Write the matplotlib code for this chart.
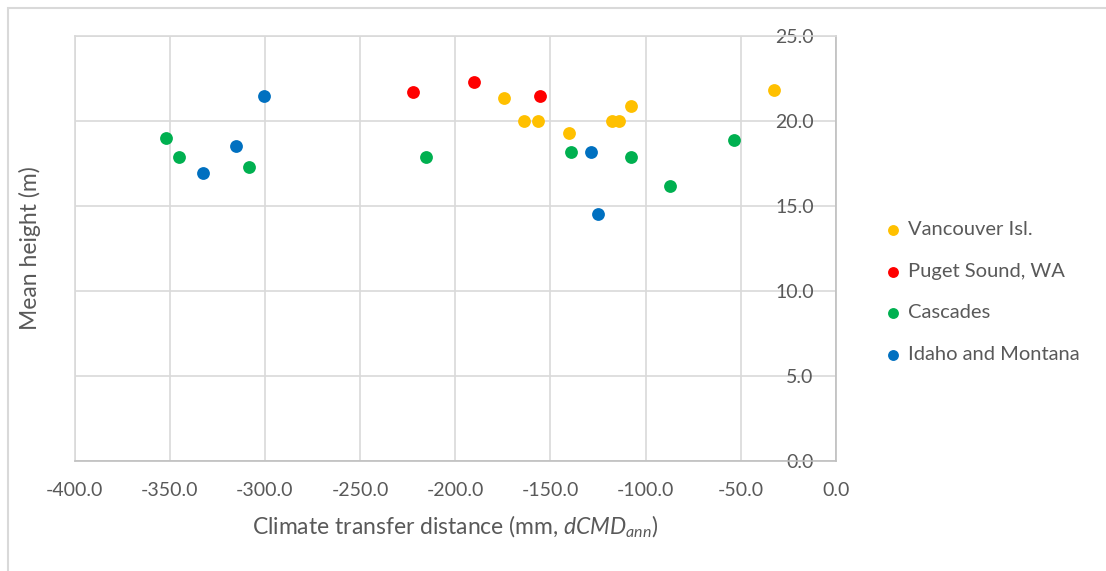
import matplotlib
matplotlib.use("Agg")
import matplotlib.pyplot as plt
from matplotlib.patches import Rectangle

plt.rcParams['font.family'] = ['Lato', 'DejaVu Sans']
plt.rcParams['mathtext.fontset'] = 'custom'
plt.rcParams['mathtext.rm'] = 'Lato'
plt.rcParams['mathtext.it'] = 'Lato:italic'

# data (x = dCMD_ann in mm, y = mean height in m)
vancouver_x = [-174.5, -163.7, -156.7, -140.4, -117.7, -114.2, -107.5, -32.4]
vancouver_y = [21.35, 20.02, 20.02, 19.29, 20.02, 20.02, 20.86, 21.80]

puget_x = [-222.2, -190.3, -155.5]
puget_y = [21.71, 22.29, 21.47]

cascades_x = [-352.0, -345.0, -308.4, -215.5, -139.4, -107.5, -87.4, -53.4]
cascades_y = [19.02, 17.86, 17.28, 17.90, 18.16, 17.86, 16.19, 18.90]

idaho_x = [-332.4, -315.2, -300.2, -128.5, -125.2]
idaho_y = [16.92, 18.53, 21.45, 18.16, 14.53]

series = [
    ("Vancouver Isl.", vancouver_x, vancouver_y, "#FFC000"),
    ("Puget Sound, WA", puget_x, puget_y, "#FF0000"),
    ("Cascades", cascades_x, cascades_y, "#00B050"),
    ("Idaho and Montana", idaho_x, idaho_y, "#0070C0"),
]

x_ticks = [-400, -350, -300, -250, -200, -150, -100, -50, 0]
y_ticks = [0, 5, 10, 15, 20, 25]

text_col = "#595959"
grid_col = "#D9D9D9"

fig = plt.figure(figsize=(11.06, 5.71), dpi=100)
ax = fig.add_axes([74.5 / 1106, 1 - 461 / 571, (836 - 74.5) / 1106, (461 - 36) / 571])

for name, xs, ys, col in series:
    ax.scatter(xs, ys, s=85, color=col, label=name, linewidths=0, zorder=3)

ax.set_xlim(-400, 0)
ax.set_ylim(0, 25)
ax.set_xticks(x_ticks)
ax.set_yticks(y_ticks)
ax.set_xticklabels(["%.1f" % v for v in x_ticks])
ax.set_yticklabels(["%.1f" % v for v in y_ticks])
ax.grid(True, color=grid_col, linewidth=1.2, zorder=0)
ax.set_axisbelow(True)

for side in ["left", "top"]:
    ax.spines[side].set_color(grid_col)
    ax.spines[side].set_linewidth(1.2)
for side in ["bottom", "right"]:
    ax.spines[side].set_color("#BFBFBF")
    ax.spines[side].set_linewidth(1.2)

ax.tick_params(axis='x', length=0, pad=15, labelsize=14, labelcolor=text_col)
ax.tick_params(axis='y', length=0, left=False, right=False, labelleft=False,
               labelright=True, pad=-16, labelsize=14, labelcolor=text_col)
for lab in ax.get_yticklabels():
    lab.set_horizontalalignment('right')

fig.text(455 / 1106, 1 - 527 / 571,
         r'Climate transfer distance (mm, $\mathit{dCMD}_{\mathit{ann}}$)',
         ha='center', va='center', fontsize=16.5, color=text_col)
fig.text(30 / 1106, 1 - 248 / 571, 'Mean height (m)', rotation=90,
         ha='center', va='center', fontsize=16.5, color=text_col)

leg = ax.legend(loc='upper left', bbox_to_anchor=(875 / 1106, 1 - 213 / 571),
                bbox_transform=fig.transFigure, frameon=False, fontsize=14.5,
                handlelength=1.0, handletextpad=0.25, labelspacing=1.22,
                markerscale=0.85, borderaxespad=0)
for t in leg.get_texts():
    t.set_color(text_col)

# outer chart frame
fig.patches.append(Rectangle((8 / 1106, -0.1), 1.2, 1 - 8 / 571 + 0.1,
                             transform=fig.transFigure, fill=False,
                             edgecolor=grid_col, linewidth=1.5))

fig.savefig("out.png", dpi=100)
